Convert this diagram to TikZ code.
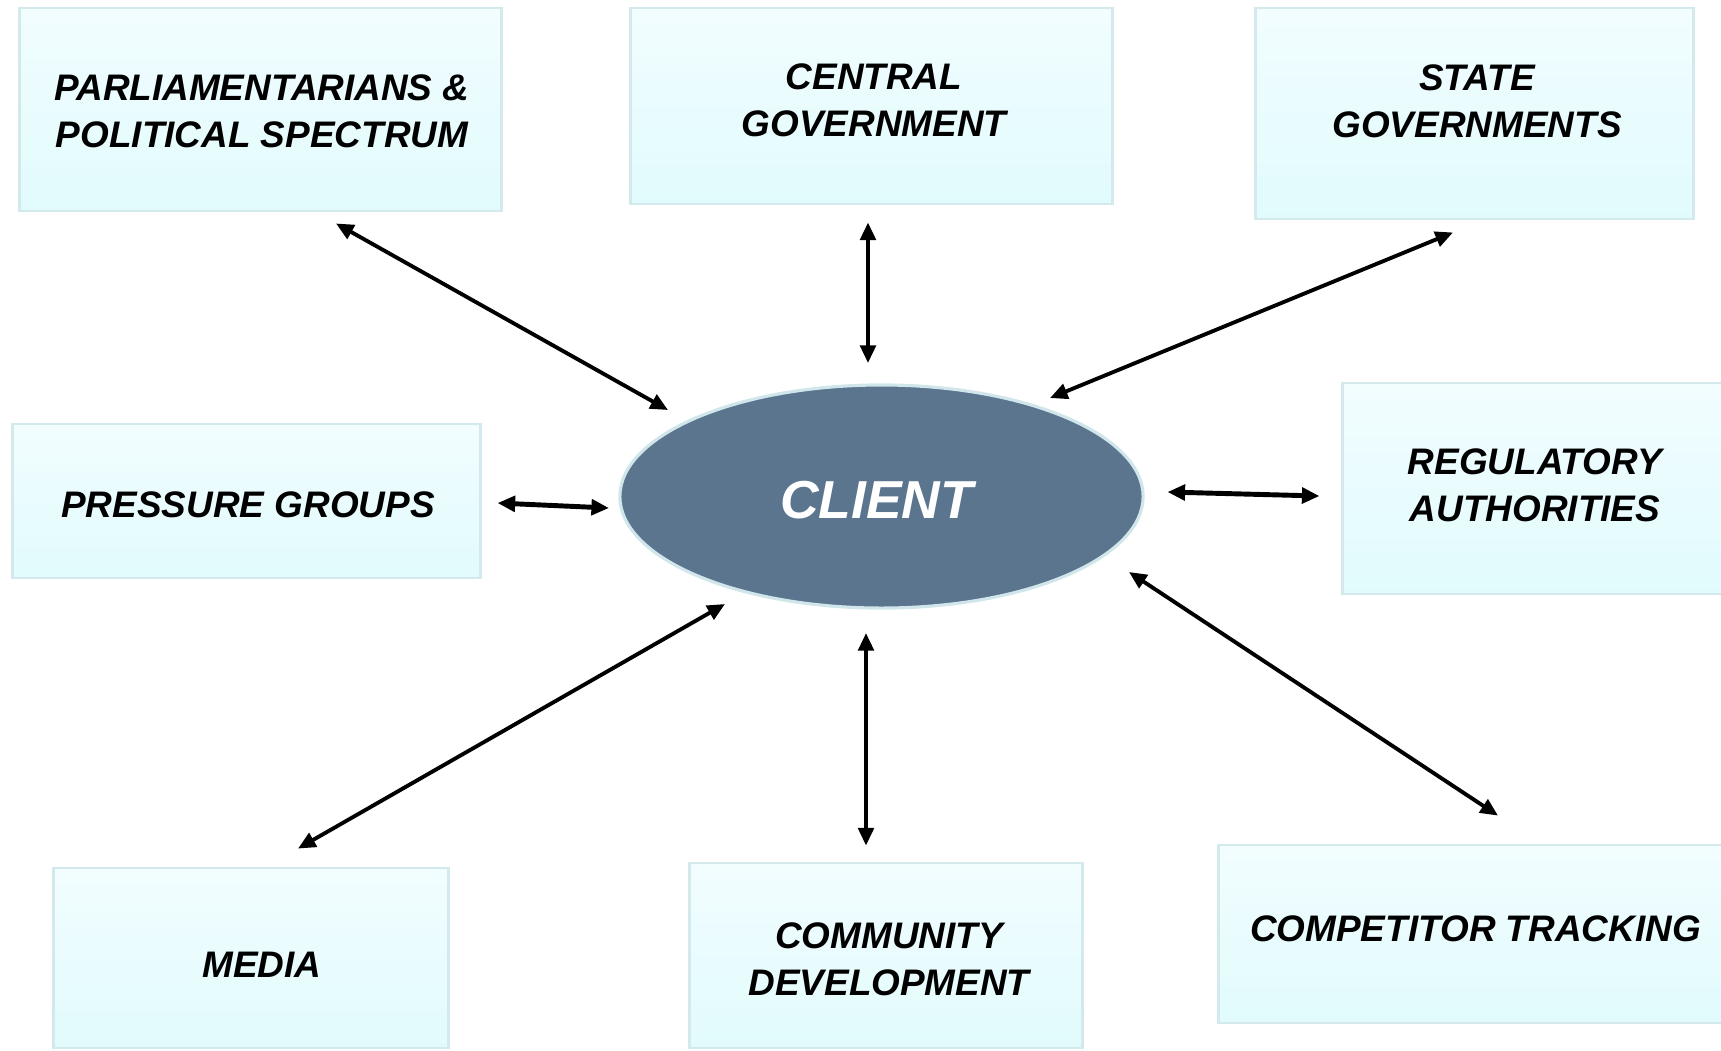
\documentclass[tikz,border=0pt]{standalone}
\usepackage{fontspec}
\setmainfont{Liberation Sans}
\usetikzlibrary{arrows.meta, shapes.geometric}
\definecolor{boxtop}{RGB}{242,253,254}
\definecolor{boxbottom}{RGB}{225,251,253}
\definecolor{boxline}{RGB}{212,233,235}
\definecolor{hubfill}{RGB}{91,117,143}
\definecolor{hubline}{RGB}{208,230,234}
\tikzstyle{entity} = [% stakeholder box
  rectangle,
  inner sep=0pt,
  draw=boxline,
  line width=0.8pt,
  top color=boxtop,
  bottom color=boxbottom
  ]
\tikzstyle{entitytext} = [% stakeholder label
  align=center,
  inner sep=0pt,
  font=\fontsize{10.5}{13.4}\selectfont\bfseries\itshape
  ]
\tikzstyle{hub} = [% client ellipse
  ellipse,
  inner sep=0pt,
  minimum width=5.23cm,
  minimum height=2.23cm,
  draw=hubline,
  line width=0.9pt,
  fill=hubfill,
  text=white,
  font=\fontsize{15.2}{18}\selectfont\bfseries\itshape
  ]
\tikzstyle{arrow} = [% double arrow
  line width=1.1pt,
  <->,
  >={Triangle[length=5pt,width=4.4pt]}
  ]

\begin{document}
\begin{tikzpicture}[x=0.01cm, y=-0.01cm]
\useasboundingbox (0,0) rectangle (1721,1050);

%%% Boxes
\node[entity, minimum width=4.81cm, minimum height=2.03cm] (parl) at (260.5,109.5) {};
\node[entity, minimum width=4.81cm, minimum height=1.96cm] (central) at (871.5,106) {};
\node[entity, minimum width=4.37cm, minimum height=2.11cm] (state) at (1474.5,113.5) {};
\node[entity, minimum width=4.67cm, minimum height=1.54cm] (pressure) at (246.5,501) {};
\node[entity, minimum width=3.92cm, minimum height=2.11cm] (regulatory) at (1539,488.5) {};
\node[entity, minimum width=3.94cm, minimum height=1.80cm] (media) at (251,958) {};
\node[entity, minimum width=3.92cm, minimum height=1.85cm] (community) at (886,955.5) {};
\node[entity, minimum width=5.16cm, minimum height=1.78cm] (competitor) at (1477,934) {};

%%% Labels
\node[entitytext] (parltext) at (262,111.5) {PARLIAMENTARIANS \&\\POLITICAL SPECTRUM};
\node[entitytext] (centraltext) at (874,100) {CENTRAL\\GOVERNMENT};
\node[entitytext] (statetext) at (1477,101) {STATE\\GOVERNMENTS};
\node[entitytext] (pressuretext) at (248,505) {PRESSURE GROUPS};
\node[entitytext] (regulatorytext) at (1535,485) {REGULATORY\\AUTHORITIES};
\node[entitytext] (mediatext) at (262,965) {MEDIA};
\node[entitytext] (communitytext) at (889,959) {COMMUNITY\\DEVELOPMENT};
\node[entitytext] (competitortext) at (1475.5,929) {COMPETITOR TRACKING};

%%% Client
\node[hub] (client) at (881.5,496.5) {};
\node[hub, draw=none, fill=none] (clienttext) at (876.5,500) {CLIENT};

%%% Arrows
\draw[arrow] ([shift={(75.5,11)}]parl.south) -- ([shift={(-213.5,-86.5)}]client.center);
\draw[arrow] ([shift={(-3.5,17)}]central.south) -- ([shift={(-13.5,-133.5)}]client.center);
\draw[arrow] ([shift={(-21.5,12)}]state.south) -- ([shift={(168.5,-98.5)}]client.center);
\draw[arrow, line width=1.4pt] ([shift={(16,2)}]pressure.east) -- ([shift={(-272.5,11.5)}]client.center);
\draw[arrow, line width=1.4pt] ([shift={(-22,7.5)}]regulatory.west) -- ([shift={(286,-4.5)}]client.center);
\draw[arrow] ([shift={(47,-18)}]media.north) -- ([shift={(-156.5,107.5)}]client.center);
\draw[arrow] ([shift={(-20,-16)}]community.north) -- ([shift={(-15.5,136.5)}]client.center);
\draw[arrow] ([shift={(21,-28)}]competitor.north) -- ([shift={(247.5,75.5)}]client.center);

\end{tikzpicture}
\end{document}
